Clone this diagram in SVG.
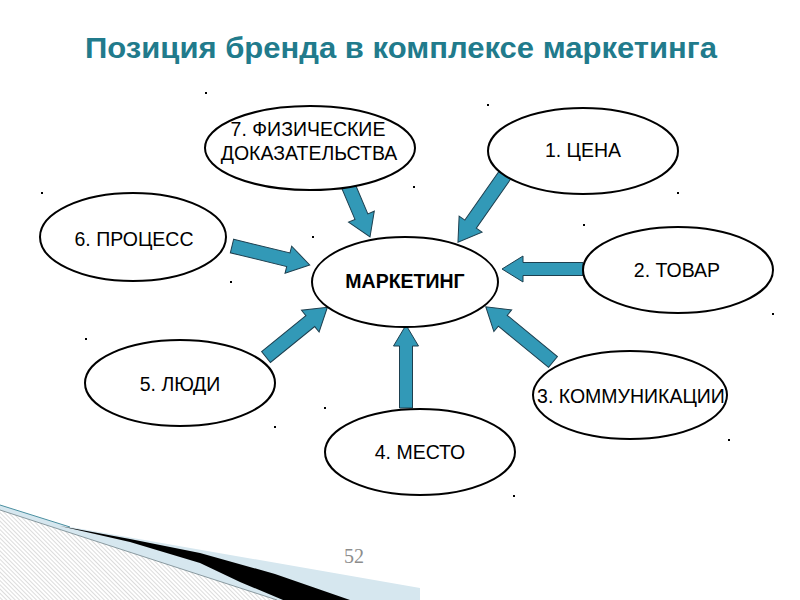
<svg xmlns="http://www.w3.org/2000/svg" width="800" height="600" viewBox="0 0 800 600">
<style>
.node ellipse{fill:#fff;stroke:#000;stroke-width:2}
.node text{font-family:"Liberation Sans",Arial,sans-serif;font-size:19.5px;fill:#000;text-anchor:middle}
.arrow{fill:#3299b7;stroke:#1d3f4f;stroke-width:1}
.dot{fill:#000}
</style>
<defs>
<pattern id="hatch" width="3" height="3" patternUnits="userSpaceOnUse" patternTransform="rotate(-45)">
<rect width="3" height="3" fill="#fff"/>
<line x1="0" y1="0" x2="0" y2="3" stroke="#a8a8a8" stroke-width="0.8"/>
</pattern>
</defs>
<rect width="800" height="600" fill="#fff"/>
<!-- decoration -->
<polygon points="0,505 70,527 420,588 420,600 0,600" fill="#d6e7ef"/>
<polyline points="0,505 70,527" fill="none" stroke="#4a8fa0" stroke-width="1"/>
<polygon points="0,510 277,600 0,600" fill="url(#hatch)"/>
<line x1="0" y1="510" x2="277" y2="600" stroke="#8a9aa0" stroke-width="1"/>
<polygon points="60,526 130,539 200,553 275,574 350,600 283,600 240,582 200,563 130,542" fill="#000"/>
<text x="354" y="563" font-family="Liberation Serif,serif" font-size="20" fill="#8c8c8c" text-anchor="middle">52</text>
<text x="401" y="58" font-family="Liberation Sans,Arial,sans-serif" font-size="29" font-weight="bold" fill="#217b8c" text-anchor="middle" textLength="632" lengthAdjust="spacingAndGlyphs">Позиция бренда в комплексе маркетинга</text>
<g id="dots">
<rect class="dot" x="205" y="92" width="2" height="2"/>
<rect class="dot" x="487" y="104" width="2" height="2"/>
<rect class="dot" x="41" y="192" width="2" height="2"/>
<rect class="dot" x="312" y="236" width="2" height="2"/>
<rect class="dot" x="230" y="281" width="2" height="2"/>
<rect class="dot" x="413" y="186" width="2" height="2"/>
<rect class="dot" x="677" y="192" width="2" height="2"/>
<rect class="dot" x="583" y="224" width="2" height="2"/>
<rect class="dot" x="85" y="338" width="2" height="2"/>
<rect class="dot" x="324" y="407" width="2" height="2"/>
<rect class="dot" x="274" y="426" width="2" height="2"/>
<rect class="dot" x="772" y="313" width="2" height="2"/>
<rect class="dot" x="728" y="439" width="2" height="2"/>
<rect class="dot" x="513" y="495" width="2" height="2"/>
</g>
<g id="connectors">
<polygon class="arrow" transform="translate(345,178) rotate(67)" points="0,-7 42,-7 42,-14 64,0 42,14 42,7 0,7"/>
<polygon class="arrow" transform="translate(505,175) rotate(125)" points="0,-7 60,-7 60,-14 82,0 60,14 60,7 0,7"/>
<polygon class="arrow" transform="translate(583,269) rotate(180)" points="0,-6.5 60,-6.5 60,-13 81,0 60,13 60,6.5 0,6.5"/>
<polygon class="arrow" transform="translate(232,246) rotate(13.7)" points="0,-7 58,-7 58,-14 80,0 58,14 58,7 0,7"/>
<polygon class="arrow" transform="translate(266,357) rotate(-39)" points="0,-7 57,-7 57,-14 79,0 57,14 57,7 0,7"/>
<polygon class="arrow" transform="translate(553,362) rotate(-140.6)" points="0,-7 65,-7 65,-14 87,0 65,14 65,7 0,7"/>
<polygon class="arrow" transform="translate(406,408) rotate(-90)" points="0,-6.5 62,-6.5 62,-12.5 83,0 62,12.5 62,6.5 0,6.5"/>
</g>
<g id="n7" class="node"><ellipse cx="310" cy="148" rx="105" ry="42"/><text x="308" y="136">7. ФИЗИЧЕСКИЕ</text><text x="309" y="160">ДОКАЗАТЕЛЬСТВА</text></g>
<g id="n1" class="node"><ellipse cx="583" cy="151" rx="95" ry="43"/><text x="583" y="157">1. ЦЕНА</text></g>
<g id="n6" class="node"><ellipse cx="133" cy="237" rx="93" ry="44"/><text x="134" y="246">6. ПРОЦЕСС</text></g>
<g id="center" class="node"><ellipse cx="405" cy="282" rx="93" ry="45"/><text x="405" y="288" font-weight="bold" style="font-size:19.5px">МАРКЕТИНГ</text></g>
<g id="n2" class="node"><ellipse cx="678" cy="270" rx="95" ry="43"/><text x="677" y="277">2. ТОВАР</text></g>
<g id="n5" class="node"><ellipse cx="180" cy="383" rx="95" ry="43"/><text x="180" y="391">5. ЛЮДИ</text></g>
<g id="n3" class="node"><ellipse cx="630" cy="395" rx="97" ry="44"/><text x="631" y="403">3. КОММУНИКАЦИИ</text></g>
<g id="n4" class="node"><ellipse cx="420" cy="452" rx="95" ry="43"/><text x="420" y="459">4. МЕСТО</text></g>
</svg>
